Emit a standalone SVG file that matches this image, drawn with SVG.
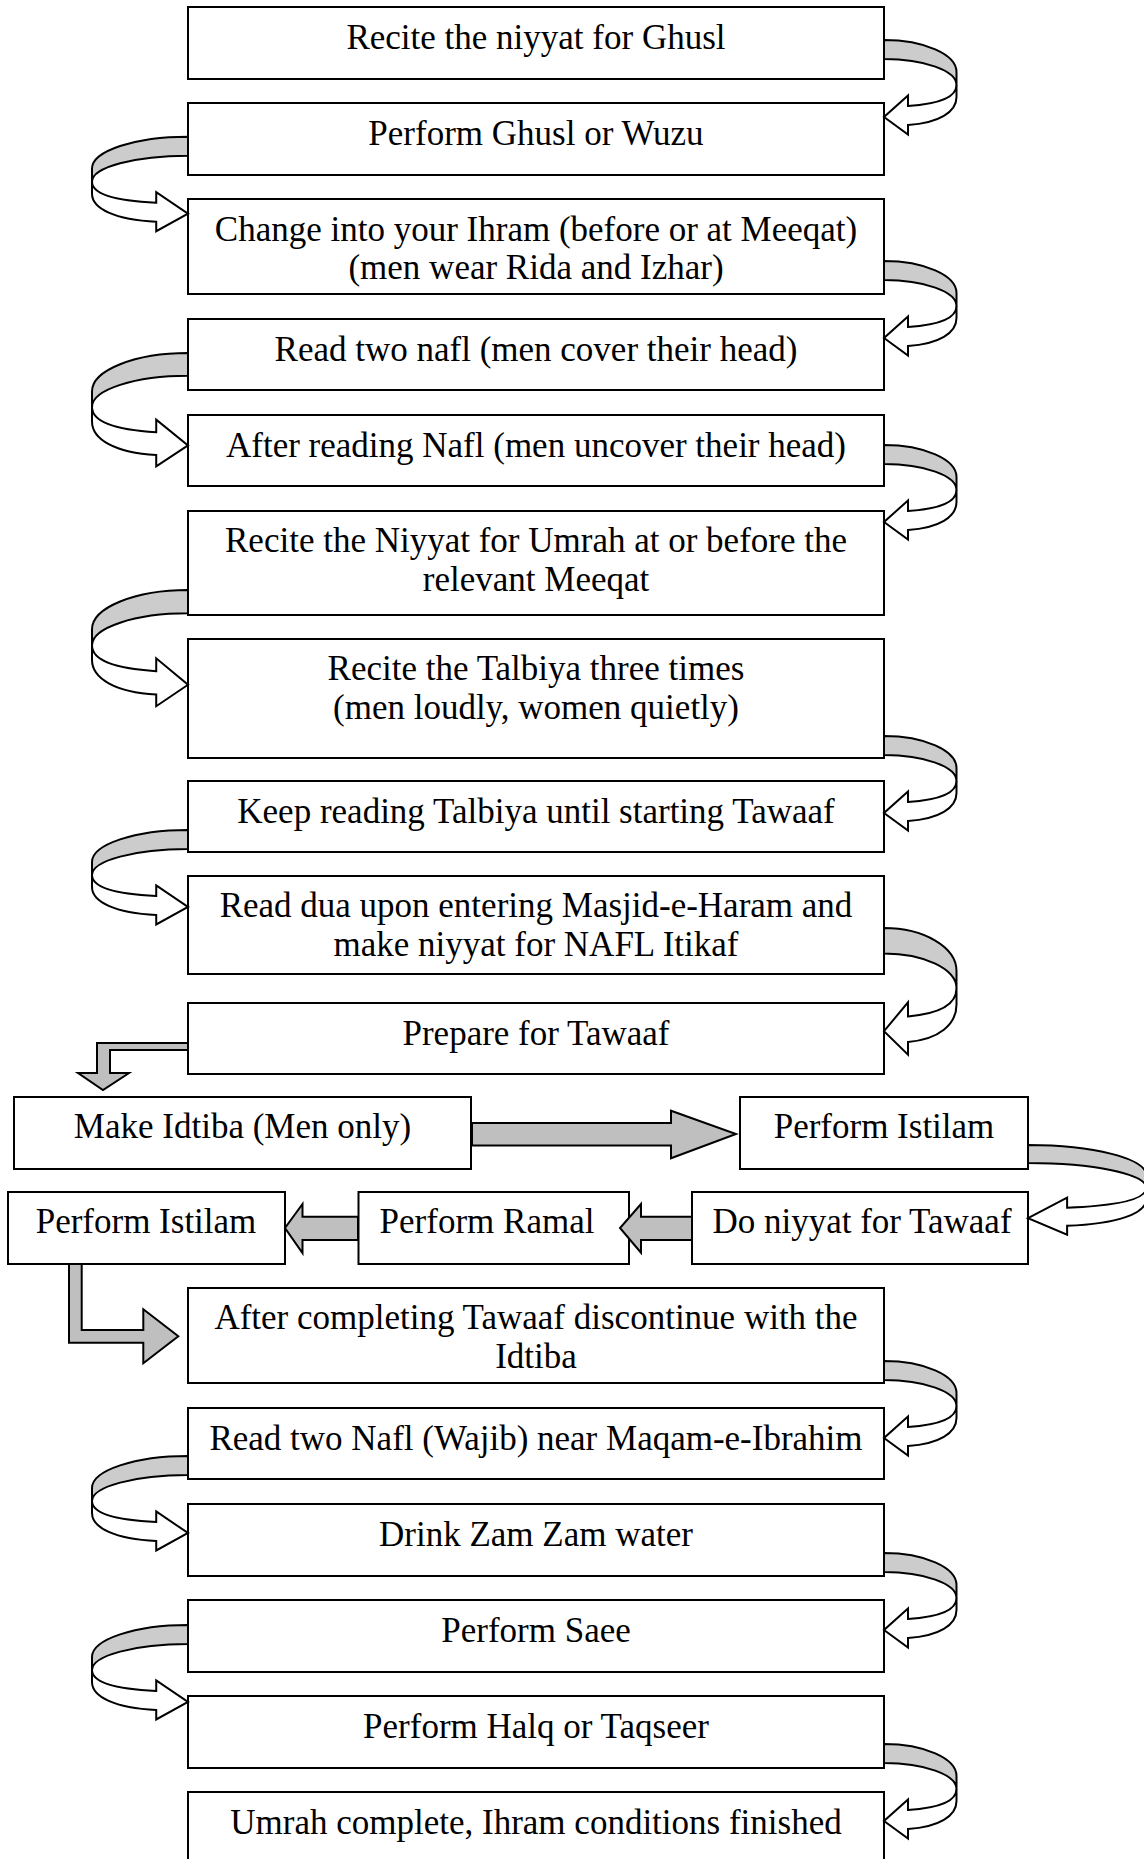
<svg xmlns="http://www.w3.org/2000/svg" xmlns:xlink="http://www.w3.org/1999/xlink" width="1144" height="1859" viewBox="0 0 1144 1859">
<style>
.box{fill:#fff;stroke:#000;stroke-width:2}
.t{font-family:"Liberation Serif","Times New Roman",serif;font-size:35px;text-anchor:middle;fill:#000}
.cb{fill:#cccccc;stroke:#000;stroke-width:2;vector-effect:non-scaling-stroke;stroke-linejoin:round}
.cf{fill:#fff;stroke:#000;stroke-width:2;vector-effect:non-scaling-stroke;stroke-linejoin:miter}
.ba{fill:#bfbfbf;stroke:#000;stroke-width:2;stroke-linejoin:miter}
</style>
<defs>
<g id="ca">
<path class="cb" d="M0,0 C40,0 72.5,14.3 72.5,32 L72.5,45 C72.5,30.6 40,19 0,19 Z"/>
<path class="cf" d="M72.5,45 C72.5,57 55,64 24,66 L24,55.5 L0,77 L24,94.5 L24,85 C55,83 72.5,72 72.5,57 Z"/>
</g>
</defs>
<rect width="1144" height="1859" fill="#fff"/>
<g id="nodes">
<g id="n1"><rect class="box" x="188" y="7" width="696" height="72"/><text class="t" x="536" y="49">Recite the niyyat for Ghusl</text></g>
<g id="n2"><rect class="box" x="188" y="103" width="696" height="72"/><text class="t" x="536" y="145">Perform Ghusl or Wuzu</text></g>
<g id="n3"><rect class="box" x="188" y="199" width="696" height="95"/><text class="t" x="536" y="241">Change into your Ihram (before or at Meeqat)</text><text class="t" x="536" y="279">(men wear Rida and Izhar)</text></g>
<g id="n4"><rect class="box" x="188" y="319" width="696" height="71"/><text class="t" x="536" y="361">Read two nafl (men cover their head)</text></g>
<g id="n5"><rect class="box" x="188" y="415" width="696" height="71"/><text class="t" x="536" y="457">After reading Nafl (men uncover their head)</text></g>
<g id="n6"><rect class="box" x="188" y="511" width="696" height="104"/><text class="t" x="536" y="552">Recite the Niyyat for Umrah at or before the</text><text class="t" x="536" y="591">relevant Meeqat</text></g>
<g id="n7"><rect class="box" x="188" y="639" width="696" height="119"/><text class="t" x="536" y="680">Recite the Talbiya three times</text><text class="t" x="536" y="719">(men loudly, women quietly)</text></g>
<g id="n8"><rect class="box" x="188" y="781" width="696" height="71"/><text class="t" x="536" y="823">Keep reading Talbiya until starting Tawaaf</text></g>
<g id="n9"><rect class="box" x="188" y="876" width="696" height="98"/><text class="t" x="536" y="917">Read dua upon entering Masjid-e-Haram and</text><text class="t" x="536" y="956">make niyyat for NAFL Itikaf</text></g>
<g id="n10"><rect class="box" x="188" y="1003" width="696" height="71"/><text class="t" x="536" y="1045">Prepare for Tawaaf</text></g>
<g id="n11"><rect class="box" x="14" y="1097" width="457" height="72"/><text class="t" x="242.5" y="1138">Make Idtiba (Men only)</text></g>
<g id="n12"><rect class="box" x="740" y="1097" width="288" height="72"/><text class="t" x="884" y="1138">Perform Istilam</text></g>
<g id="n13"><rect class="box" x="692" y="1192" width="336" height="72"/><text class="t" x="862" y="1233">Do niyyat for Tawaaf</text></g>
<g id="n14"><rect class="box" x="358.5" y="1192" width="270.5" height="72"/><text class="t" x="487" y="1233">Perform Ramal</text></g>
<g id="n15"><rect class="box" x="8" y="1192" width="277" height="72"/><text class="t" x="146" y="1233">Perform Istilam</text></g>
<g id="n16"><rect class="box" x="188" y="1288" width="696" height="95"/><text class="t" x="536" y="1329">After completing Tawaaf discontinue with the</text><text class="t" x="536" y="1368">Idtiba</text></g>
<g id="n17"><rect class="box" x="188" y="1408" width="696" height="71"/><text class="t" x="536" y="1450">Read two Nafl (Wajib) near Maqam-e-Ibrahim</text></g>
<g id="n18"><rect class="box" x="188" y="1504" width="696" height="72"/><text class="t" x="536" y="1546">Drink Zam Zam water</text></g>
<g id="n19"><rect class="box" x="188" y="1600" width="696" height="72"/><text class="t" x="536" y="1642">Perform Saee</text></g>
<g id="n20"><rect class="box" x="188" y="1696" width="696" height="72"/><text class="t" x="536" y="1738">Perform Halq or Taqseer</text></g>
<g id="n21"><rect class="box" x="188" y="1792" width="696" height="80"/><text class="t" x="536" y="1834">Umrah complete, Ihram conditions finished</text></g>
</g>
<g id="connectors">
<use xlink:href="#ca" transform="translate(884,40)"/>
<use xlink:href="#ca" transform="translate(188,136.7) scale(-1.324,1)"/>
<use xlink:href="#ca" transform="translate(884,261)"/>
<use xlink:href="#ca" transform="translate(188,353) scale(-1.324,1.2)"/>
<use xlink:href="#ca" transform="translate(884,445)"/>
<use xlink:href="#ca" transform="translate(188,590) scale(-1.324,1.23)"/>
<use xlink:href="#ca" transform="translate(884,736)"/>
<use xlink:href="#ca" transform="translate(188,830) scale(-1.324,1)"/>
<use xlink:href="#ca" transform="translate(884,928) scale(1,1.34)"/>
<polygon class="ba" points="188,1043 97,1043 97,1073 78,1073 103,1090 129,1073 110,1073 110,1050 188,1050"/>
<polygon class="ba" points="472,1123 671,1123 671,1110.7 736,1134 671,1158.3 671,1145.5 472,1145.5"/>
<use xlink:href="#ca" transform="translate(1028,1145) scale(1.63,0.95)"/>
<polygon class="ba" points="692,1216.7 641,1216.7 641,1204 620,1228 641,1252.7 641,1240 692,1240"/>
<polygon class="ba" points="358,1216.7 302.5,1216.7 302.5,1204 285,1228 302.5,1253 302.5,1240 358,1240"/>
<polygon class="ba" points="69,1264 69,1342.7 143.3,1342.7 143.3,1363.3 178.3,1336.3 143.3,1309.3 143.3,1330 81.7,1330 81.7,1264"/>
<use xlink:href="#ca" transform="translate(884,1361)"/>
<use xlink:href="#ca" transform="translate(188,1456) scale(-1.324,1)"/>
<use xlink:href="#ca" transform="translate(884,1553)"/>
<use xlink:href="#ca" transform="translate(188,1625) scale(-1.324,1)"/>
<use xlink:href="#ca" transform="translate(884,1744)"/>
</g>
</svg>
